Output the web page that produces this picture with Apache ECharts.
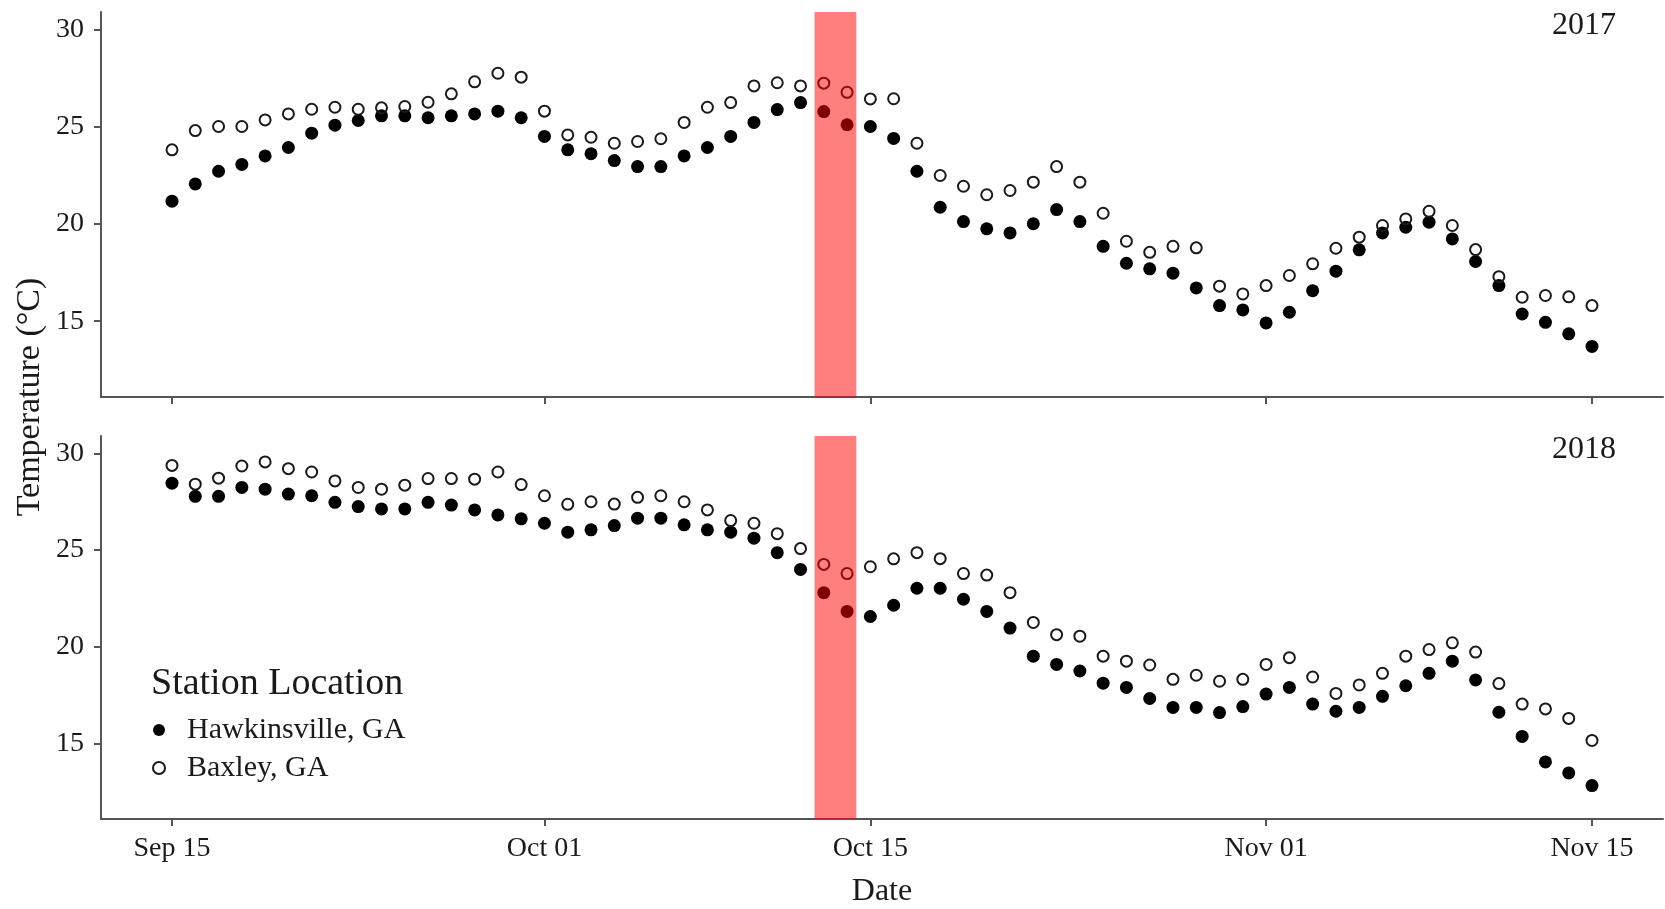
<!DOCTYPE html>
<html>
<head>
<meta charset="utf-8">
<script src="https://cdn.jsdelivr.net/npm/echarts@6/dist/echarts.min.js"></script>
<style>
  html, body { margin: 0; padding: 0; background: #fff; }
  #chart { width: 1665px; height: 909px; }
</style>
</head>
<body>
<div id="chart"></div>
<script>
// Day offsets from Sep 15 (0 = Sep 15 ... 61 = Nov 15)
const days = Array.from({length: 62}, (_, i) => i);
const tickDays = [0, 16, 30, 47, 61];
const tickLabels = ['Sep 15', 'Oct 01', 'Oct 15', 'Nov 01', 'Nov 15'];
const yTicks = [15, 20, 25, 30];
const band = [27.6, 29.4]; // shaded period (day offsets)

const haw2017 = [21.17,22.06,22.71,23.06,23.50,23.93,24.67,25.08,25.32,25.56,25.56,25.46,25.56,25.66,25.80,25.46,
  24.50,23.81,23.61,23.26,22.95,22.95,23.50,23.93,24.50,25.22,25.88,26.24,25.78,25.10,25.01,24.40,22.71,20.86,20.12,19.75,19.54,20.01,20.74,20.12,18.85,17.98,17.69,17.47,16.71,15.80,15.58,
  14.91,15.46,16.57,17.57,18.67,19.54,19.83,20.09,19.23,18.07,16.83,15.37,14.94,14.35,13.70];
const bax2017 = [23.81,24.80,25.01,25.01,25.35,25.66,25.90,26.00,25.90,25.97,26.04,26.26,26.69,27.31,27.75,27.55,
  25.80,24.58,24.46,24.15,24.24,24.38,25.22,26.00,26.24,27.10,27.26,27.10,27.24,26.77,26.43,26.44,24.15,22.49,21.94,21.50,21.72,22.15,22.95,22.15,20.55,19.11,18.54,18.85,18.77,16.80,16.40,
  16.83,17.35,17.95,18.75,19.32,19.92,20.26,20.65,19.92,18.68,17.29,16.23,16.32,16.25,15.80];
const haw2018 = [28.46,27.78,27.78,28.24,28.15,27.90,27.81,27.47,27.25,27.13,27.13,27.47,27.33,27.08,26.82,26.62,
  26.39,25.93,26.05,26.27,26.65,26.65,26.31,26.05,25.93,25.62,24.87,24.00,22.80,21.83,21.57,22.15,23.03,23.03,22.46,21.83,20.97,19.52,19.09,18.75,18.12,17.90,17.33,16.87,16.87,16.60,16.91,
  17.56,17.90,17.04,16.67,16.87,17.44,17.99,18.63,19.26,18.29,16.62,15.37,14.05,13.48,12.83];
const bax2018 = [29.38,28.41,28.72,29.35,29.56,29.21,29.04,28.58,28.24,28.15,28.36,28.70,28.70,28.67,29.04,28.39,
  27.81,27.37,27.50,27.38,27.73,27.81,27.50,27.08,26.53,26.39,25.85,25.08,24.26,23.79,24.14,24.55,24.87,24.56,23.79,23.71,22.80,21.26,20.63,20.55,19.52,19.26,19.06,18.32,18.53,18.22,18.32,
  19.09,19.44,18.44,17.59,18.03,18.63,19.52,19.86,20.21,19.73,18.10,17.04,16.79,16.30,15.16];

const FONT = "'Liberation Serif', 'Times New Roman', serif";
const AXIS_COLOR = '#555';
const TEXT_COLOR = '#1a1a1a';

function pair(vals) { return days.map((d, i) => [d, vals[i]]); }

function xAxisDef(gridIndex, showLabels) {
  return {
    type: 'value', gridIndex, min: -3.05, max: 64.05,
    splitLine: { show: false },
    axisLine: { show: true, onZero: false, lineStyle: { color: AXIS_COLOR, width: 2 } },
    axisTick: { show: true, customValues: tickDays, length: 7, lineStyle: { color: AXIS_COLOR, width: 2 } },
    axisLabel: {
      show: showLabels, customValues: tickDays, margin: 16,
      fontFamily: FONT, fontSize: 28, color: TEXT_COLOR,
      formatter: v => tickLabels[tickDays.indexOf(Math.round(v))] || ''
    },
    name: showLabels ? 'Date' : '',
    nameLocation: 'middle', nameGap: 57,
    nameTextStyle: { fontFamily: FONT, fontSize: 32, color: TEXT_COLOR }
  };
}
function yAxisDef(gridIndex) {
  return {
    type: 'value', gridIndex, min: 11.1, max: 30.9,
    splitLine: { show: false },
    axisLine: { show: true, onZero: false, lineStyle: { color: AXIS_COLOR, width: 2 } },
    axisTick: { show: true, customValues: yTicks, length: 7, lineStyle: { color: AXIS_COLOR, width: 2 } },
    axisLabel: { customValues: yTicks, margin: 17, fontFamily: FONT, fontSize: 28, color: TEXT_COLOR }
  };
}

const filledStyle = { color: '#000', opacity: 1 };
const openStyle = { color: 'rgba(255,255,255,0)', borderColor: '#1a1a1a', borderWidth: 2, opacity: 1 };

function bandSeries(idx) {
  return {
    type: 'custom', xAxisIndex: idx, yAxisIndex: idx, z: 10, silent: true,
    data: [band], encode: { x: [0, 1] },
    renderItem: (params, api) => {
      const cs = params.coordSys;
      const x0 = api.coord([api.value(0), 20])[0];
      const x1 = api.coord([api.value(1), 20])[0];
      return { type: 'rect', shape: { x: x0, y: cs.y, width: x1 - x0, height: cs.height },
               style: { fill: 'rgba(255,0,0,0.5)' } };
    }
  };
}

const option = {
  animation: false,
  backgroundColor: '#fff',
  grid: [
    { left: 101, right: 2, top: 12, height: 385 },
    { left: 101, right: 2, top: 436, height: 393 }
  ],
  xAxis: [xAxisDef(0, false), xAxisDef(1, true)],
  yAxis: [yAxisDef(0), yAxisDef(1)],
  legend: {
    data: ['Hawkinsville, GA', 'Baxley, GA'],
    orient: 'vertical', left: 147, top: 709,
    itemWidth: 46, itemHeight: 12, itemGap: 6,
    textStyle: { fontFamily: FONT, fontSize: 30, color: TEXT_COLOR, lineHeight: 32 },
    selectedMode: false
  },
  graphic: [
    { type: 'text', x: 30, y: 397, rotation: Math.PI / 2,
      style: { text: 'Temperature (°C)', font: '34px ' + FONT, fill: TEXT_COLOR, textAlign: 'center', textVerticalAlign: 'middle' } },
    { type: 'text', x: 1616, y: 26,
      style: { text: '2017', font: '32px ' + FONT, fill: TEXT_COLOR, textAlign: 'right', textVerticalAlign: 'middle' } },
    { type: 'text', x: 1616, y: 450,
      style: { text: '2018', font: '32px ' + FONT, fill: TEXT_COLOR, textAlign: 'right', textVerticalAlign: 'middle' } },
    { type: 'text', x: 151, y: 684,
      style: { text: 'Station Location', font: '38px ' + FONT, fill: TEXT_COLOR, textAlign: 'left', textVerticalAlign: 'middle' } }
  ],
  series: [
    { name: 'Hawkinsville, GA', type: 'scatter', xAxisIndex: 0, yAxisIndex: 0, symbol: 'circle', symbolSize: 13, itemStyle: filledStyle, data: pair(haw2017) },
    { name: 'Baxley, GA', type: 'scatter', xAxisIndex: 0, yAxisIndex: 0, symbol: 'circle', symbolSize: 11, itemStyle: openStyle, data: pair(bax2017) },
    { name: 'Hawkinsville, GA', type: 'scatter', xAxisIndex: 1, yAxisIndex: 1, symbol: 'circle', symbolSize: 13, itemStyle: filledStyle, data: pair(haw2018) },
    { name: 'Baxley, GA', type: 'scatter', xAxisIndex: 1, yAxisIndex: 1, symbol: 'circle', symbolSize: 11, itemStyle: openStyle, data: pair(bax2018) },
    bandSeries(0),
    bandSeries(1)
  ]
};

const chart = echarts.init(document.getElementById('chart'), null, { renderer: 'canvas' });
chart.setOption(option);
</script>
</body>
</html>
